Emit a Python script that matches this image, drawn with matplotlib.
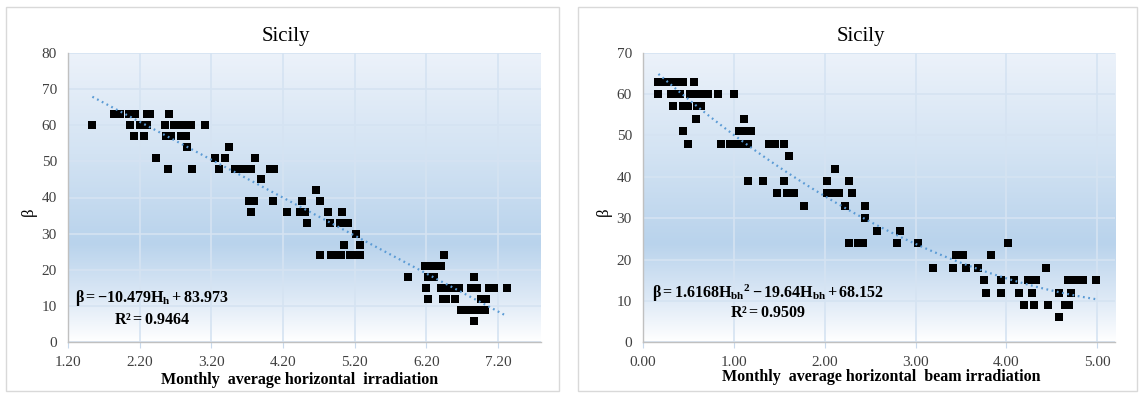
import numpy as np
import matplotlib
matplotlib.use("Agg")
import matplotlib.pyplot as plt
from matplotlib.colors import LinearSegmentedColormap
from matplotlib.patches import Rectangle

plt.rcParams["font.family"] = ["Liberation Serif", "DejaVu Serif"]
plt.rcParams["mathtext.fontset"] = "custom"
plt.rcParams["mathtext.rm"] = "Liberation Serif"
plt.rcParams["mathtext.bf"] = "Liberation Serif:bold"
plt.rcParams["mathtext.it"] = "Liberation Serif:italic"

# ---- Sicily: optimal tilt angle vs monthly average horizontal irradiation ----
h_global = [1.54,
            1.84, 1.92, 2.05, 2.13, 2.30, 2.35, 2.61,
            2.06, 2.20, 2.30, 2.56, 2.68, 2.75, 2.81, 2.92, 3.11,
            2.12, 2.26, 2.57, 2.64, 2.78, 2.84,
            2.86, 3.45,
            2.43, 3.25, 3.39, 3.81,
            2.59, 2.93, 3.31, 3.53, 3.60, 3.68, 3.76, 4.02, 4.08,
            3.89,
            4.66,
            3.72, 3.80, 4.06, 4.46, 4.71,
            3.75, 4.25, 4.44, 4.50, 4.83, 5.02,
            4.53, 4.86, 5.00, 5.10,
            5.22,
            5.05, 5.27,
            4.71, 4.87, 4.94, 5.01, 5.13, 5.23, 5.28, 6.44,
            6.18, 6.25, 6.31, 6.40,
            5.94, 6.23, 6.30, 6.87,
            6.19, 6.40, 6.52, 6.59, 6.66, 6.82, 6.90, 7.07, 7.15, 7.32,
            6.22, 6.43, 6.48, 6.60, 6.96, 7.03,
            6.68, 6.80, 6.87, 6.92, 7.02,
            6.87]
beta_global = [60,
               63, 63, 63, 63, 63, 63, 63,
               60, 60, 60, 60, 60, 60, 60, 60, 60,
               57, 57, 57, 57, 57, 57,
               54, 54,
               51, 51, 51, 51,
               48, 48, 48, 48, 48, 48, 48, 48, 48,
               45,
               42,
               39, 39, 39, 39, 39,
               36, 36, 36, 36, 36, 36,
               33, 33, 33, 33,
               30,
               27, 27,
               24, 24, 24, 24, 24, 24, 24, 24,
               21, 21, 21, 21,
               18, 18, 18, 18,
               15, 15, 15, 15, 15, 15, 15, 15, 15, 15,
               12, 12, 12, 12, 12, 12,
               9, 9, 9, 9, 9,
               6]

# ---- Sicily: optimal tilt angle vs monthly average horizontal beam irradiation ----
h_beam = [0.17, 0.24, 0.29, 0.34, 0.39, 0.44, 0.56,
          0.17, 0.31, 0.35, 0.41, 0.52, 0.60, 0.65, 0.72, 0.83, 1.00,
          0.33, 0.44, 0.49, 0.59, 0.64,
          0.58, 1.11,
          0.44, 1.06, 1.11, 1.19,
          0.50, 0.86, 0.96, 1.01, 1.07, 1.16, 1.39, 1.45, 1.55,
          1.61,
          2.11,
          1.16, 1.32, 1.55, 2.03, 2.27,
          1.47, 1.58, 1.66, 2.03, 2.11, 2.16, 2.30,
          1.77, 2.22, 2.44,
          2.44,
          2.58, 2.83,
          2.27, 2.37, 2.42, 2.80, 3.03, 4.02,
          3.44, 3.52, 3.83,
          3.19, 3.41, 3.55, 3.69, 4.44,
          3.75, 3.94, 4.08, 4.24, 4.29, 4.33, 4.68, 4.73, 4.78, 4.84, 4.99,
          3.78, 3.94, 4.14, 4.28, 4.58, 4.71,
          4.19, 4.30, 4.46, 4.64, 4.69,
          4.58]
beta_beam = [63, 63, 63, 63, 63, 63, 63,
             60, 60, 60, 60, 60, 60, 60, 60, 60, 60,
             57, 57, 57, 57, 57,
             54, 54,
             51, 51, 51, 51,
             48, 48, 48, 48, 48, 48, 48, 48, 48,
             45,
             42,
             39, 39, 39, 39, 39,
             36, 36, 36, 36, 36, 36, 36,
             33, 33, 33,
             30,
             27, 27,
             24, 24, 24, 24, 24, 24,
             21, 21, 21,
             18, 18, 18, 18, 18,
             15, 15, 15, 15, 15, 15, 15, 15, 15, 15, 15,
             12, 12, 12, 12, 12, 12,
             9, 9, 9, 9, 9,
             6]

# Regression coefficients
lin_coef = [-10.479, 83.973]          # beta = a*H + b
quad_coef = [1.6168, -19.64, 68.152]  # beta = a*H^2 + b*H + c

title = "Sicily"
xlabel_left = "Monthly  average horizontal  irradiation"
xlabel_right = "Monthly  average horizontal  beam irradiation"
eq_left = r"$\mathbf{β = -10.479H_h + 83.973}$"
r2_left = r"$\mathbf{R² = 0.9464}$"
eq_right = r"$\mathbf{β = 1.6168H_{bh}{}^2 - 19.64H_{bh} + 68.152}$"
r2_right = r"$\mathbf{R² = 0.9509}$"

W, H = 1142, 394
fig = plt.figure(figsize=(W / 100, H / 100), dpi=100)
fig.patch.set_facecolor("white")


def fx(px):
    return px / W


def fy(py):
    return 1 - py / H


# Chart-area frames
for x0, x1 in [(6, 559), (578, 1137)]:
    fig.add_artist(Rectangle((fx(x0), fy(391)), fx(x1 - x0), 384 / H,
                             transform=fig.transFigure, fill=False,
                             ec="#d9d9d9", lw=1.0))

grad_cmap = LinearSegmentedColormap.from_list(
    "plotfill",
    [(0.0, "#ecf2fa"), (0.35, "#d3e3f3"), (0.66, "#b9d3ec"), (0.85, "#dde9f6"),
     (1.0, "#ffffff")])
grad = np.linspace(0, 1, 256).reshape(-1, 1)

grid_col = "#d5e3f2"
trend_col = "#5b9bd5"


def style_axes(ax, xmin, xmax, ymax, xticks):
    ax.imshow(grad, cmap=grad_cmap, aspect="auto", extent=[0, 1, 0, 1],
              transform=ax.transAxes, zorder=0, interpolation="bilinear")
    ax.set_xlim(xmin, xmax)
    ax.set_ylim(0, ymax)
    ax.set_xticks(xticks)
    ax.set_yticks(np.arange(0, ymax + 1, 10))
    ax.grid(True, color=grid_col, lw=1.2, zorder=1)
    ax.set_axisbelow(True)
    for s in ["top", "right"]:
        ax.spines[s].set_visible(False)
    for s in ["left", "bottom"]:
        ax.spines[s].set_color("#c0c0c0")
        ax.spines[s].set_linewidth(1.0)
    ax.tick_params(axis="x", direction="out", length=4, color="#c8d9ec",
                   labelsize=11, pad=6, labelcolor="#404040")
    ax.tick_params(axis="y", length=0, labelsize=11, pad=8, labelcolor="#404040")


# Left panel: global horizontal irradiation
ax1 = fig.add_axes([fx(68), fy(342.3), fx(541 - 68), (342.3 - 52.7) / H])
style_axes(ax1, 1.2, 7.8, 80, np.arange(1.2, 7.3, 1.0))
ax1.xaxis.set_major_formatter(matplotlib.ticker.FormatStrFormatter("%.2f"))
ax1.scatter(h_global, beta_global, marker="s", s=30, c="black", zorder=3,
            linewidths=0)
xs = np.linspace(min(h_global), max(h_global), 100)
ax1.plot(xs, np.polyval(lin_coef, xs), color=trend_col, lw=1.6,
         ls=(0, (0.8, 1.6)), zorder=4)

# Right panel: horizontal beam irradiation
ax2 = fig.add_axes([fx(643), fy(342.3), fx(1115.4 - 643), (342.3 - 52.7) / H])
style_axes(ax2, 0.0, 5.2, 70, np.arange(0, 5.1, 1.0))
ax2.xaxis.set_major_formatter(matplotlib.ticker.FormatStrFormatter("%.2f"))
ax2.scatter(h_beam, beta_beam, marker="s", s=30, c="black", zorder=3,
            linewidths=0)
xs2 = np.linspace(min(h_beam), max(h_beam), 100)
ax2.plot(xs2, np.polyval(quad_coef, xs2), color=trend_col, lw=1.6,
         ls=(0, (0.8, 1.6)), zorder=4)

# Titles, axis titles and equations
for cx, xl, lx, xlab_y in [(286, xlabel_left, 300, 380), (861, xlabel_right, 881, 377)]:
    fig.text(fx(cx), fy(37), title, ha="center", va="center", fontsize=15)
    fig.text(fx(lx), fy(xlab_y), xl, ha="center", va="center", fontsize=11.5,
             fontweight="bold")

for px in [29, 604]:
    fig.text(fx(px), fy(212), "β", ha="center", va="center", fontsize=12,
             rotation=90)

fig.text(fx(152), fy(298), eq_left, ha="center", va="center", fontsize=11.5)
fig.text(fx(152), fy(320), r2_left, ha="center", va="center", fontsize=11.5)
fig.text(fx(768), fy(293), eq_right, ha="center", va="center", fontsize=11.5)
fig.text(fx(768), fy(313), r2_right, ha="center", va="center", fontsize=11.5)

fig.savefig("out.png", dpi=100)
